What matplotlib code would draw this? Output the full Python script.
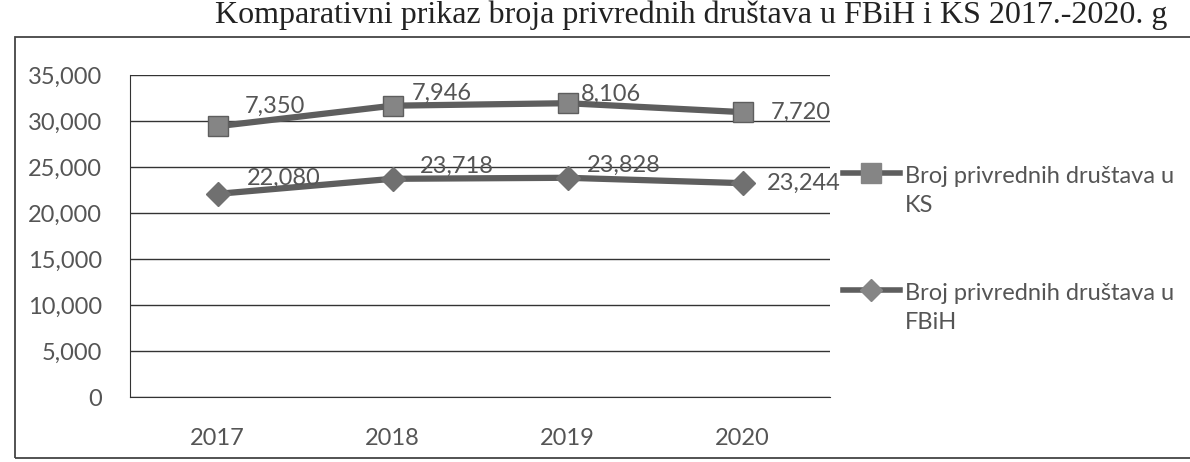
import matplotlib
matplotlib.use("Agg")
import matplotlib.pyplot as plt
import numpy as np
from matplotlib.lines import Line2D
from matplotlib.patches import Rectangle

years = ["2017", "2018", "2019", "2020"]
fbih = [22080, 23718, 23828, 23244]
ks = [7350, 7946, 8106, 7720]
yticks = [0, 5000, 10000, 15000, 20000, 25000, 30000, 35000]
title = "Komparativni prikaz broja privrednih društava u FBiH i KS 2017.-2020. g"
leg_ks = "Broj privrednih društava u\nKS"
leg_fbih = "Broj privrednih društava u\nFBiH"

plt.rcParams['font.family'] = ['Lato', 'DejaVu Sans']
W, H = 1190, 462
FS = 17
fig = plt.figure(figsize=(W / 100, H / 100), dpi=100)
fig.patch.set_facecolor("white")

# outer frame
fig.add_artist(Rectangle((15 / W, 1 - 458 / H), 1.2, (458 - 37) / H,
                         transform=fig.transFigure, fill=False,
                         edgecolor="#444444", lw=1.3))
# title (at the very top, as in the scan)
fig.text(215 / W, 1 - 23 / H, title, family="Liberation Serif", fontsize=23,
         color="#222222", ha="left", va="baseline")

ax = fig.add_axes([130 / W, 1 - 397 / H, 700 / W, (397 - 75) / H])
x = np.arange(len(years))
stack = [a + b for a, b in zip(fbih, ks)]
txt = "#555555"
line_c = "#5e5e5e"

ax.plot(x, fbih, color=line_c, lw=4.5, marker="D", markersize=12,
        markerfacecolor="#707070", markeredgecolor="#707070", zorder=3)
ax.plot(x, stack, color=line_c, lw=4.5, marker="s", markersize=15,
        markerfacecolor="#858585", markeredgecolor="#5e5e5e", zorder=3)

ax.set_xlim(-0.5, 3.5)
ax.set_ylim(0, 35000)
ax.set_yticks(yticks)
ax.set_yticklabels([f"{v:,}" for v in yticks], fontsize=FS, color=txt)
ax.set_xticks(x)
ax.set_xticklabels(years, fontsize=FS, color=txt)
ax.tick_params(axis="y", length=0, pad=20)
ax.tick_params(axis="x", length=0, pad=22)
ax.grid(axis="y", color="#333333", lw=1)
for s in ["top", "right"]:
    ax.spines[s].set_visible(False)
ax.spines["left"].set_color("#333333")
ax.spines["bottom"].set_color("#333333")

# data labels
ks_off = [(0.33, 2200), (0.28, 1300), (0.25, 1000), (0.33, 0)]
fb_off = [(0.38, 1700), (0.37, 1300), (0.32, 1300), (0.35, 0)]
for i in range(4):
    dx, dy = ks_off[i]
    ax.text(x[i] + dx, stack[i] + dy, f"{ks[i]:,}", fontsize=FS, color=txt,
            ha="center", va="center")
    dx, dy = fb_off[i]
    ax.text(x[i] + dx, fbih[i] + dy, f"{fbih[i]:,}", fontsize=FS, color=txt,
            ha="center", va="center")

# legend (manual placement)
for ly, mk, ms, lab in [(173, "s", 14, leg_ks), (290, "D", 11, leg_fbih)]:
    fig.add_artist(Line2D([843 / W, 900 / W], [1 - ly / H, 1 - ly / H],
                          transform=fig.transFigure, color=line_c, lw=4))
    fig.add_artist(Line2D([871 / W], [1 - ly / H], transform=fig.transFigure,
                          marker=mk, markersize=ms, color="#858585", lw=0))
    fig.text(905 / W, 1 - (ly - 7) / H, lab, fontsize=FS, color=txt,
             ha="left", va="top", linespacing=1.45)

fig.savefig("out.png", dpi=100)
